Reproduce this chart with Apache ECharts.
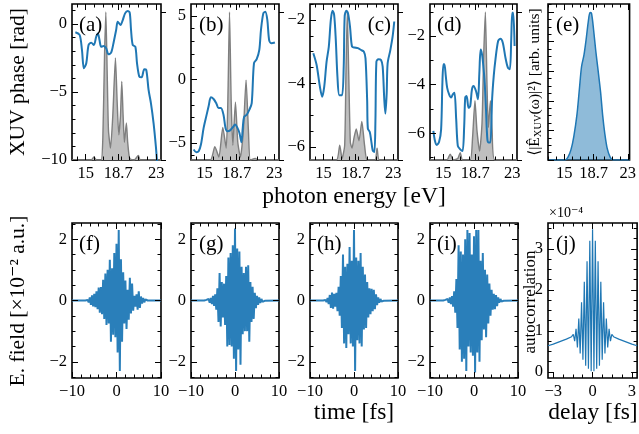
<!DOCTYPE html>
<html><head><meta charset="utf-8">
<script src="https://cdn.jsdelivr.net/npm/echarts@6/dist/echarts.min.js"></script>
<style>html,body{margin:0;padding:0;background:#fff}#c{width:639px;height:434px}</style>
</head><body><div id="c"></div>
<script>
// ---------------- DATA ----------------
// (a)-(d): XUV phase [rad] vs photon energy [eV]
const energyA = [13.83,14.32,14.58,14.8,15.07,15.33,15.63,15.93,16.2,16.39,16.57,16.76,17.06,17.33,17.59,17.89,18.19,18.46,18.64,18.95,19.21,19.47,19.77,20.0,20.15,20.34,20.64,20.83,21.09,21.35,21.65,21.88,22.14,22.41,22.71,22.97,23.12];
const phaseA  = [-0.61,-0.81,-1.91,-3.26,-2.89,-1.54,-1.37,-1.54,-0.93,-0.69,-1.18,-1.67,-1.62,-1.79,-2.23,-2.11,-1.3,-0.44,0.17,-0.07,0.29,0.78,0.96,0.83,-0.44,-1.54,-1.67,-2.89,-3.87,-3.92,-3.33,-3.38,-4.85,-5.83,-7.3,-9.02,-10.3];
const energyB = [13.75,14.06,14.33,14.59,14.9,15.2,15.47,15.73,16.04,16.34,16.61,16.88,17.18,17.41,17.64,17.94,18.25,18.51,18.78,19.01,19.24,19.39,19.54,19.85,20.15,20.42,20.68,20.99,21.29,21.48,21.75,21.98,22.21,22.43,22.7,23.08];
const phaseB  = [-5.52,-5.73,-5.66,-5.13,-3.82,-2.91,-2.12,-1.41,-1.54,-1.86,-2.25,-2.25,-2.78,-3.82,-4.08,-4.01,-3.77,-3.56,-3.82,-4.22,-4.95,-3.82,-2.96,-2.78,-2.38,-1.86,1.28,1.6,2.33,3.9,5.21,5.34,4.69,3.06,2.85,2.91];
const energyC = [13.83,14.21,14.59,14.85,15.08,15.35,15.61,15.84,16.03,16.22,16.41,16.6,16.82,17.13,17.32,17.43,17.62,17.81,18.04,18.27,18.57,18.95,19.33,19.63,19.82,20.01,20.09,20.31,20.47,20.65,20.84,20.96,21.07,21.3,21.6,21.79,21.98,22.1,22.25,22.36,22.67,22.93,23.12];
const phaseC  = [-3.05,-3.42,-4.11,-4.42,-4.11,-3.32,-2.84,-2.0,-1.71,-1.84,-2.63,-3.79,-4.37,-4.37,-3.47,-1.89,-1.71,-1.79,-2.21,-2.84,-2.87,-2.89,-2.95,-3.0,-3.21,-4.53,-5.42,-5.53,-5.79,-6.11,-6.16,-5.16,-3.32,-3.24,-3.26,-3.47,-4.53,-4.95,-4.32,-3.37,-2.95,-2.53,-2.05];
const energyD = [13.84,14.03,14.23,14.5,14.74,14.89,15.01,15.12,15.28,15.44,15.67,15.9,16.1,16.29,16.49,16.68,16.96,17.23,17.42,17.54,17.7,17.93,18.12,18.32,18.51,18.79,19.02,19.18,19.33,19.49,19.64,19.8,19.95,20.11,20.27,20.46,20.66,20.85,21.05,21.36,21.63,21.9,22.21,22.49,22.72,22.88,23.0,23.11,23.27];
const phaseD  = [-5.9,-6.32,-6.48,-6.36,-5.84,-3.92,-3.16,-3.16,-3.64,-4.12,-4.4,-4.53,-4.4,-4.33,-5.42,-6.52,-6.66,-6.73,-5.7,-4.53,-4.47,-4.95,-4.88,-4.19,-4.05,-4.26,-4.6,-3.51,-2.55,-2.75,-3.23,-3.92,-5.01,-6.25,-6.38,-6.38,-4.6,-3.64,-2.96,-2.2,-2.11,-2.27,-2.89,-3.3,-3.37,-2.14,-1.04,-1.04,-2.41];

// grey spectra (normalised intensity) in (a)-(d)
const specEA = [13.45,15.63,15.93,16.24,16.76,16.95,17.14,17.29,17.44,17.59,17.82,18.08,18.38,18.57,18.76,18.95,19.1,19.25,19.4,19.62,19.77,20.0,20.5,20.98,21.2,23.55];
const specIA = [0,0,0.02,0,0,0.15,0.7,1.0,0.6,0.2,0.08,0.3,0.69,0.4,0.17,0.3,0.53,0.3,0.12,0.25,0.12,0.01,0,0.03,0,0];
const specEB = [13.45,15.66,16.19,16.65,17.1,17.49,17.68,17.87,18.06,18.25,18.55,18.82,19.12,19.46,19.77,20.04,20.26,20.84,21.18,23.55];
const specIB = [0,0,0.09,0.02,0.22,0.08,0.4,1.0,0.4,0.1,0.39,0.12,0.02,0.2,0.54,0.2,0,0.01,0,0];
const specEC = [13.45,16.48,16.86,17.13,17.43,17.58,17.73,17.89,18.08,18.27,18.5,18.76,19.07,19.4,19.71,20.01,20.92,21.15,21.41,23.55];
const specIC = [0,0,0.1,0.01,0.1,0.6,1.0,0.6,0.12,0.08,0.15,0.21,0.13,0.26,0.1,0,0,0.08,0,0];
const specED = [13.45,15.4,15.79,16.18,16.68,16.96,17.23,18.12,18.39,18.67,18.9,19.21,19.49,19.68,19.88,20.07,20.23,20.46,20.66,20.97,23.55];
const specID = [0,0,0.04,0,0.01,0.05,0,0,0.15,0.4,0.2,0.06,0.25,0.7,1.0,0.5,0.22,0.4,0.2,0,0];

// (e) averaged spectrum
const energyE = [12.94,15.08,15.46,15.84,16.2,16.6,16.9,17.17,17.48,17.74,18.01,18.24,18.43,18.69,18.96,19.27,19.57,19.84,20.1,20.4,20.78,21.17,23.23];
const specE   = [0,0,0.02,0.07,0.16,0.31,0.48,0.63,0.71,0.81,0.93,0.996,0.99,0.88,0.74,0.6,0.46,0.3,0.18,0.08,0.02,0,0];

// (f)-(i): E field [1e-2 a.u.], samples every 0.25 fs from -7 fs to 7 fs
const fieldStart = -7, fieldStep = 0.25;
const fieldF = [0,-0.01,0.02,-0.06,0.1,-0.14,0.17,-0.19,0.22,-0.22,0.3,-0.28,0.42,-0.4,0.44,-0.45,0.68,-0.6,0.88,-0.8,1.0,-0.75,1.33,-1.35,1.05,-1.12,1.55,-1.2,1.85,-1.7,2.3,-2.3,1.35,-1.35,0.92,-0.75,0.65,-0.93,0.35,-0.63,0.74,-0.42,0.55,-0.33,0.15,-0.2,0.2,-0.3,0.3,-0.24,0.13,-0.1,0.08,-0.06,0.04,-0.02,0];
const fieldG = [0,-0.01,0.02,-0.04,0.05,-0.07,0.08,-0.12,0.15,-0.18,0.2,-0.3,0.4,-0.7,0.9,-0.85,0.6,-0.55,0.55,-0.8,0.8,-1.5,1.4,-1.45,1.55,-1.5,1.8,-1.9,2.35,-2.3,1.7,-1.6,1.6,-2.1,1.1,-1.1,0.9,-1.0,1.1,-1.0,1.15,-1.35,0.6,-0.7,0.45,-0.6,0.25,-0.25,0.15,-0.14,0.1,-0.08,0.05,-0.04,0.02,-0.01,0];
const fieldH = [0,-0.01,0.02,-0.05,0.08,-0.12,0.18,-0.24,0.26,-0.27,0.22,-0.2,0.25,-0.35,0.45,-0.5,0.8,-0.9,1.5,-1.4,1.1,-1.55,1.2,-1.1,1.75,-1.4,1.3,-1.5,2.3,-2.3,1.4,-1.3,1.3,-1.4,1.55,-1.5,1.1,-0.95,0.85,-0.9,0.6,-0.55,0.4,-0.45,0.38,-0.35,0.35,-0.28,0.2,-0.15,0.1,-0.07,0.05,-0.03,0.02,-0.01,0];
const fieldI = [0,-0.01,0.02,-0.03,0.05,-0.07,0.1,-0.12,0.14,-0.2,0.3,-0.4,0.7,-0.9,1.8,-1.6,1.6,-2.0,1.5,-1.9,2.0,-2.3,2.3,-1.5,2.2,-1.7,1.5,-1.8,2.1,-2.35,2.3,-1.7,2.3,-2.0,1.3,-1.3,1.55,-0.95,1.0,-1.2,0.85,-0.75,0.55,-0.5,0.35,-0.3,0.22,-0.28,0.18,-0.18,0.1,-0.07,0.05,-0.03,0.02,-0.01,0];

// (j) autocorrelation [1e-4] vs delay [fs]
const delayJ = [-3.4,-3.0,-2.5,-2.0,-1.6,-1.47,-1.365,-1.26,-1.155,-1.05,-0.945,-0.84,-0.735,-0.63,-0.525,-0.42,-0.315,-0.21,-0.105,0,0.105,0.21,0.315,0.42,0.525,0.63,0.735,0.84,0.945,1.05,1.155,1.26,1.365,1.47,1.6,2.0,2.5,3.0,3.4];
const autoJ  = [0.64,0.68,0.74,0.80,0.86,0.92,0.75,1.05,0.6,1.3,0.45,1.7,0.3,2.2,0.15,2.7,0.08,3.2,0.02,3.48,0.02,3.2,0.08,2.7,0.15,2.2,0.3,1.7,0.45,1.3,0.6,1.05,0.75,0.92,0.86,0.80,0.74,0.68,0.64];

// tick values
const energyTicks = [15, 18.7, 23];
const energyMinor = [13,14,16,17,18,19,20,21,22];
const timeTicks = [-10, 0, 10];
const timeMinor = [-8,-6,-4,-2,2,4,6,8];
const fieldTicks = [-2, 0, 2];
const fieldMinor = [-2.5,-1.5,-1,-0.5,0.5,1,1.5,2.5];
const delayTicks = [-3, 0, 3];
const delayMinor = [-2.25,-1.5,-0.75,0.75,1.5,2.25];
const autoTicks = [0, 1, 2, 3];
const autoMinor = [0.25,0.5,0.75,1.25,1.5,1.75,2.25,2.5,2.75,3.25,3.5];
const phaseTicksA = [-10,-5,0], phaseMinorA = [-9,-8,-7,-6,-4,-3,-2,-1,1];
const phaseTicksB = [-5,0,5], phaseMinorB = [-6,-4,-3,-2,-1,1,2,3,4];
const phaseTicksC = [-6,-4,-2], phaseMinorC = [-5.5,-5,-4.5,-3.5,-3,-2.5,-1.5];
const phaseTicksD = [-6,-4,-2], phaseMinorD = [-7,-5,-3,-1];
const specTicksE = [0,0.2,0.4,0.6,0.8,1.0];
const specMinorE = [0.05,0.1,0.15,0.25,0.3,0.35,0.45,0.5,0.55,0.65,0.7,0.75,0.85,0.9,0.95,1.05];

// ---------------- CHART BUILDING ----------------
const FONT = "'Liberation Serif','DejaVu Serif',serif";
const BLUE = '#1f77b4';
const grids = [], xAxes = [], yAxes = [], series = [];
const zip = (a, b) => a.map((v, i) => [v, b[i]]);
const fmt = v => (v < 0 ? '\u2212' + String(Math.abs(v)) : String(v));

function axis(gi, min, max, pos, ticks, len, labels, inside) {
  return {
    type: 'value', gridIndex: gi, min: min, max: max, position: pos,
    axisLine: { show: false, onZero: false },
    splitLine: { show: false },
    axisTick: { show: true, inside: inside !== false, length: len, customValues: ticks,
                lineStyle: { color: '#000', width: 1 } },
    axisLabel: labels ? { show: true, customValues: ticks, formatter: fmt, color: '#000',
                          fontFamily: FONT, fontSize: 16.5, margin: 5 } : { show: false },
    z: 6
  };
}

function panel(c) {
  const gi = grids.length;
  grids.push({ left: c.left, top: c.top, width: c.w, height: c.h, show: true,
               borderColor: '#000', borderWidth: 1.6, backgroundColor: 'rgba(0,0,0,0)' });
  const xi = xAxes.length;
  xAxes.push(axis(gi, c.x[0], c.x[1], 'bottom', c.xMaj, 6, true));
  xAxes.push(axis(gi, c.x[0], c.x[1], 'bottom', c.xMin, 3.5, false));
  xAxes.push(axis(gi, c.x[0], c.x[1], 'top', c.xMaj, 6, false));
  xAxes.push(axis(gi, c.x[0], c.x[1], 'top', c.xMin, 3.5, false));
  const yi = yAxes.length;
  yAxes.push(axis(gi, c.y[0], c.y[1], 'left', c.yMaj, 6, c.yLabels !== false));
  yAxes.push(axis(gi, c.y[0], c.y[1], 'left', c.yMin, 3.5, false));
  if (c.mirror) {
    yAxes.push(axis(gi, c.y[0], c.y[1], 'right', c.yMaj, 6, false));
    yAxes.push(axis(gi, c.y[0], c.y[1], 'right', c.yMin, 3.5, false));
  }
  let twin = null;
  if (c.twin) {
    twin = yAxes.length;
    yAxes.push(axis(gi, 0, 1.054, 'right', [0, 1], 5, false, false));
  }
  return { xi: xi, yi: yi, twin: twin };
}

const TOP = 4, TH = 156, BOT = 223, BH = 155;
const EX = [13.45, 23.55];

function phasePanel(left, w, yr, maj, min, E, P, SE, SI) {
  const p = panel({ left: left, top: TOP, w: w, h: TH, x: EX, xMaj: energyTicks, xMin: energyMinor,
                    y: yr, yMaj: maj, yMin: min, twin: true });
  series.push({ type: 'line', xAxisIndex: p.xi, yAxisIndex: p.twin, data: zip(SE, SI), symbol: 'none',
                smooth: 0.2, lineStyle: { color: '#7f7f7f', width: 1.4 },
                areaStyle: { color: '#bfbfbf', opacity: 1 }, z: 2 });
  series.push({ type: 'line', xAxisIndex: p.xi, yAxisIndex: p.yi, data: zip(E, P), symbol: 'none',
                smooth: 0.3, lineStyle: { color: BLUE, width: 2 }, z: 3 });
}
phasePanel(72, 89, [-10, 1.47], phaseTicksA, phaseMinorA, energyA, phaseA, specEA, specIA);
phasePanel(191, 88, [-6.35, 5.95], phaseTicksB, phaseMinorB, energyB, phaseB, specEB, specIB);
phasePanel(310, 88, [-6.41, -1.5], phaseTicksC, phaseMinorC, energyC, phaseC, specEC, specIC);
phasePanel(430, 87, [-7.1, -0.68], phaseTicksD, phaseMinorD, energyD, phaseD, specED, specID);

// (e)
(function () {
  const p = panel({ left: 548, top: TOP, w: 90, h: TH, x: [12.94, 23.23], xMaj: energyTicks,
                    xMin: energyMinor, y: [0, 1.054], yMaj: specTicksE, yMin: specMinorE, yLabels: false });
  series.push({ type: 'line', xAxisIndex: p.xi, yAxisIndex: p.yi, data: zip(energyE, specE), symbol: 'none',
                smooth: 0.3, lineStyle: { color: BLUE, width: 1.5 },
                areaStyle: { color: BLUE, opacity: 0.5 }, z: 3 });
})();

// (f)-(i)
function fieldPairs(vals) {
  const p = [[-10, 0]];
  vals.forEach((v, i) => p.push([fieldStart + i * fieldStep, v]));
  p.push([10, 0]);
  return p;
}
[[72, 89, fieldF], [191, 88, fieldG], [310, 88, fieldH], [430, 88, fieldI]].forEach(function (d) {
  const p = panel({ left: d[0], top: BOT, w: d[1], h: BH, x: [-10, 10], xMaj: timeTicks, xMin: timeMinor,
                    y: [-2.53, 2.53], yMaj: fieldTicks, yMin: fieldMinor, mirror: true });
  series.push({ type: 'line', xAxisIndex: p.xi, yAxisIndex: p.yi, data: fieldPairs(d[2]), symbol: 'none',
                lineStyle: { color: '#2a7fba', width: 2 }, z: 3 });
});

// (j)
(function () {
  const p = panel({ left: 548, top: BOT, w: 90, h: BH, x: [-3.4, 3.4], xMaj: delayTicks, xMin: delayMinor,
                    y: [-0.146, 3.63], yMaj: autoTicks, yMin: autoMinor, mirror: true });
  series.push({ type: 'line', xAxisIndex: p.xi, yAxisIndex: p.yi, data: zip(delayJ, autoJ), symbol: 'none',
                lineStyle: { color: BLUE, width: 1.2 }, z: 3 });
})();

// ---------------- TEXT ----------------
function txt(x, y, text, size, opts) {
  opts = opts || {};
  return { type: 'text', x: x, y: y, rotation: opts.rot || 0, z: 100,
           style: { text: text, fill: '#000', font: size + 'px ' + FONT, fontSize: size, fontFamily: FONT,
                    align: opts.align || 'center', verticalAlign: 'middle',
                    textAlign: opts.align || 'center', textVerticalAlign: 'middle', rich: opts.rich } };
}
const R = Math.PI / 2;
const graphics = [
  txt(18, 82, 'XUV phase [rad]', 21.5, { rot: R }),
  txt(354, 197, 'photon energy [eV]', 23.5),
  txt(18, 301, 'E. field [\u00d710\u207b\u00b2 a.u.]', 21.5, { rot: R }),
  txt(354, 413, 'time [fs]', 23.5),
  txt(593, 413, 'delay [fs]', 23.5),
  txt(531, 302, 'autocorrelation', 17, { rot: R }),
  txt(549, 213, '\u00d710\u207b\u2074', 14, { align: 'left' }),
  txt(535, 82, '{n|\u27e8|\u00ca}{s|XUV}{n|(\u03c9)|\u00b2\u27e9 [arb. units]}', 15.5, { rot: R, rich: {
      n: { fontSize: 15.5, fontFamily: FONT, fill: '#000' },
      s: { fontSize: 10.5, fontFamily: FONT, fill: '#000', verticalAlign: 'bottom', padding: [6, 0, 0, 0] } } }),
  txt(79, 25, '(a)', 21, { align: 'left' }),
  txt(199, 25, '(b)', 21, { align: 'left' }),
  txt(391, 25, '(c)', 21, { align: 'right' }),
  txt(437, 25, '(d)', 21, { align: 'left' }),
  txt(556, 25, '(e)', 21, { align: 'left' }),
  txt(79, 244, '(f)', 21, { align: 'left' }),
  txt(199, 244, '(g)', 21, { align: 'left' }),
  txt(317, 244, '(h)', 21, { align: 'left' }),
  txt(437, 244, '(i)', 21, { align: 'left' }),
  txt(556, 244, '(j)', 21, { align: 'left' })
];

const chart = echarts.init(document.getElementById('c'), null, { renderer: 'canvas' });
chart.setOption({
  animation: false,
  backgroundColor: '#fff',
  grid: grids, xAxis: xAxes, yAxis: yAxes, series: series,
  graphic: graphics
});
</script></body></html>
